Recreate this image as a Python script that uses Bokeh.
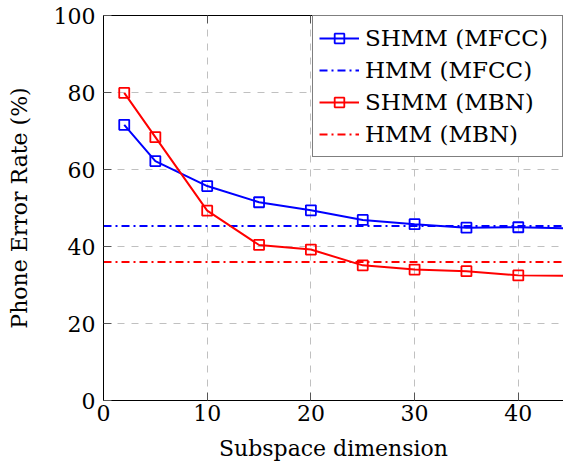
from bokeh.plotting import figure
from bokeh.models import LinearAxis, Range1d, Legend, LegendItem
from bokeh.embed import file_html
from bokeh.resources import INLINE

# ---- data ----
dims = [2, 5, 10, 15, 20, 25, 30, 35, 40, 50]
shmm_mfcc = [71.6, 62.2, 55.7, 51.5, 49.4, 46.9, 45.8, 44.9, 45.0, 44.4]
shmm_mbn = [79.9, 68.4, 49.3, 40.4, 39.2, 35.1, 34.0, 33.6, 32.5, 32.3]
hmm_mfcc = 45.3
hmm_mbn = 36.0
x_ticks = [0, 10, 20, 30, 40]
y_ticks = [0, 20, 40, 60, 80, 100]
X_MIN, X_MAX = 0, 44.36
Y_MIN, Y_MAX = 0, 100

FONT = "DejaVu Serif"
BLUE = "#0000ff"
RED = "#ff0000"

p = figure(width=563, height=470,
           x_range=Range1d(X_MIN, X_MAX), y_range=Range1d(Y_MIN, Y_MAX),
           output_backend="svg", toolbar_location=None,
           min_border_left=103, min_border_right=0, min_border_top=15, min_border_bottom=70,
           x_axis_label="Subspace dimension", y_axis_label="Phone Error Rate (%)")
p.outline_line_color = None
p.background_fill_color = "white"
p.border_fill_color = "white"

bottom = p.below[0]
left = p.left[0]
top = LinearAxis(major_label_text_font_size="0px", major_label_standoff=0,
                 major_label_text_alpha=0)
p.add_layout(top, "above")

for ax in (bottom, top):
    ax.ticker = x_ticks
left.ticker = y_ticks
for ax in (bottom, top, left):
    ax.axis_line_color = "black"
    ax.axis_line_width = 1
    ax.major_tick_in = 8
    ax.major_tick_out = 0
    ax.major_tick_line_color = "#555555"
    ax.major_tick_line_width = 1
    ax.minor_tick_line_color = None
    ax.major_label_text_font = FONT
    ax.major_label_text_color = "black"
    ax.axis_label_text_font = FONT
    ax.axis_label_text_font_style = "normal"
    ax.axis_label_text_color = "black"

bottom.major_label_text_font_size = "22px"
bottom.major_label_standoff = 4
bottom.axis_label_text_font_size = "22px"
bottom.axis_label_standoff = 12
left.major_label_text_font_size = "22px"
left.major_label_standoff = 8
left.axis_label_text_font_size = "22px"
left.axis_label_standoff = 19

p.grid.grid_line_color = "#c0c0c0"
p.grid.grid_line_dash = "7 7"
p.grid.grid_line_width = 1

r1 = p.line(dims, shmm_mfcc, line_color=BLUE, line_width=2)
s1 = p.scatter(dims, shmm_mfcc, marker="square", size=10, line_color=BLUE,
               fill_color=None, line_width=1.8)
h1 = p.line([X_MIN, X_MAX], [hmm_mfcc, hmm_mfcc], line_color=BLUE, line_width=2,
            line_dash="8 4 2 4")
r2 = p.line(dims, shmm_mbn, line_color=RED, line_width=2)
s2 = p.scatter(dims, shmm_mbn, marker="square", size=10, line_color=RED,
               fill_color=None, line_width=1.8)
h2 = p.line([X_MIN, X_MAX], [hmm_mbn, hmm_mbn], line_color=RED, line_width=2,
            line_dash="8 4 2 4")

legend = Legend(items=[
    LegendItem(label="SHMM (MFCC)", renderers=[r1, s1]),
    LegendItem(label="HMM (MFCC)", renderers=[h1]),
    LegendItem(label="SHMM (MBN)", renderers=[r2, s2]),
    LegendItem(label="HMM (MBN)", renderers=[h2]),
], location="top_right", margin=0, padding=6, spacing=0,
    glyph_width=40, glyph_height=24, label_height=32, label_width=191,
    label_standoff=6, label_text_font=FONT, label_text_font_size="23px",
    label_text_color="black", border_line_color="black", border_line_width=1,
    background_fill_color="white", background_fill_alpha=1)
p.add_layout(legend)

open("out.html", "w").write(file_html(p, INLINE))
